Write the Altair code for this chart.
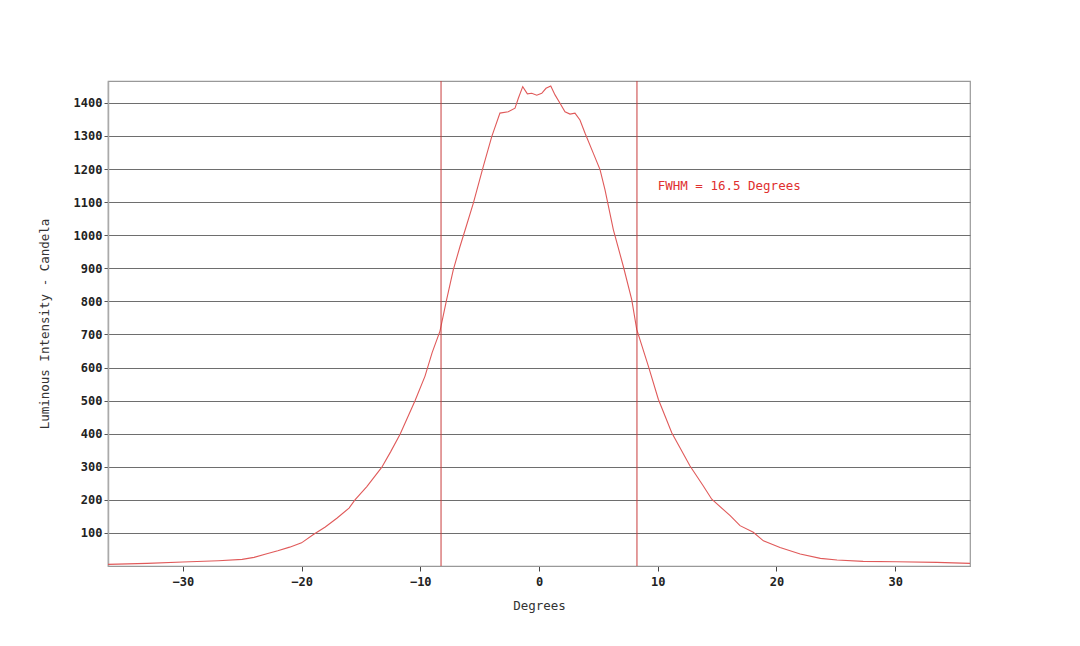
import altair as alt
import pandas as pd

# Intensity profile
degrees = [-36.3, -33.0, -30.0, -27.0, -25.0, -24.0, -23.0, -22.0, -21.0, -20.0,
           -19.0, -18.0, -17.0, -16.0, -15.5, -14.5, -13.25, -12.5, -11.7, -10.45,
           -9.6, -9.0, -8.34, -7.78, -7.22, -6.66, -6.1, -5.53, -4.69, -3.98, -3.29,
           -2.59, -2.02, -1.74, -1.37, -0.98, -0.61, -0.19, 0.23, 0.59, 0.99,
           1.35, 1.77, 2.19, 2.61, 3.03, 3.45, 3.88, 4.57, 5.14, 5.56,
           6.26, 7.1, 7.81, 8.23, 9.21, 10.05, 11.18, 12.72, 13.84, 14.55,
           16.1, 16.93, 18.05, 18.9, 20.3, 22.0, 23.7, 25.1, 27.3, 30.1,
           33.5, 36.3]
intensity = [5, 8, 12, 16, 20, 26, 36, 46, 57, 70,
             95, 118, 145, 175, 200, 240, 298, 345, 398, 499,
             574, 645, 710, 805, 895, 965, 1030, 1097, 1208, 1298, 1369,
             1373, 1384, 1414, 1449, 1427, 1429, 1423, 1429, 1444, 1451,
             1424, 1399, 1373, 1366, 1369, 1348, 1308, 1248, 1198, 1137,
             1017, 906, 805, 715, 604, 504, 403, 302, 242, 202,
             152, 122, 102, 76, 56, 36, 23, 18, 14, 13,
             11, 8]

fwhm_edges = [-8.25, 8.25]
y_ticks = [100, 200, 300, 400, 500, 600, 700, 800, 900, 1000, 1100, 1200, 1300, 1400]
x_ticks = [-30, -20, -10, 0, 10, 20, 30]
note_text = ["FWHM = 16.5 Degrees"]
note_x = [10.0]
note_y = [1150]

X_DOMAIN = [-36.3, 36.3]
Y_DOMAIN = [0, 1466]

curve = pd.DataFrame({"deg": degrees, "cd": intensity})
edges = pd.DataFrame({"deg": fwhm_edges})
note = pd.DataFrame({"deg": note_x, "cd": note_y, "label": note_text})

FONT = "DejaVu Sans Mono"

x_scale = alt.Scale(domain=X_DOMAIN, nice=False, zero=False)
y_scale = alt.Scale(domain=Y_DOMAIN, nice=False, zero=False)

line = alt.Chart(curve).mark_line(color="#e05a5a", strokeWidth=1.1).encode(
    x=alt.X("deg:Q", scale=x_scale,
            axis=alt.Axis(title="Degrees", values=x_ticks, tickCount=len(x_ticks) + 2,
                          grid=False, format="d", labelOverlap=False,
                          tickSize=5, tickColor="#444", domainColor="#999",
                          labelFont=FONT, labelFontSize=12, labelFontWeight="bold",
                          labelColor="#222", labelPadding=5,
                          titleFont=FONT, titleFontSize=12.5, titleFontWeight="normal",
                          titleColor="#333", titlePadding=12)),
    y=alt.Y("cd:Q", scale=y_scale,
            axis=alt.Axis(title="Luminous Intensity - Candela", values=y_ticks,
                          tickCount=len(y_ticks) + 2, format="d", labelOverlap=False,
                          grid=True, gridColor="#6e6e6e", gridWidth=1, gridOpacity=1,
                          tickSize=4, tickColor="#555", domainColor="#aaa", domainWidth=1.5,
                          labelFont=FONT, labelFontSize=12, labelFontWeight="bold",
                          labelColor="#222", labelPadding=2,
                          titleFont=FONT, titleFontSize=12.5, titleFontWeight="normal",
                          titleColor="#333", titlePadding=22)),
)

rules = alt.Chart(edges).mark_rule(color="#c83c3c", strokeWidth=1).encode(
    x=alt.X("deg:Q", scale=x_scale)
)

text = alt.Chart(note).mark_text(
    align="left", baseline="middle", color="#e03030", font=FONT, fontSize=12.5
).encode(
    x=alt.X("deg:Q", scale=x_scale),
    y=alt.Y("cd:Q", scale=y_scale),
    text="label:N",
)

chart = alt.layer(line, rules, text).properties(
    width=862, height=485,
    autosize=alt.AutoSizeParams(type="none"),
    padding={"left": 100, "top": 73, "right": 100, "bottom": 70},
    background="white",
).configure_view(stroke="#999", strokeWidth=1.2)

chart.save("out.html", embed_options={"renderer": "svg", "actions": False})
